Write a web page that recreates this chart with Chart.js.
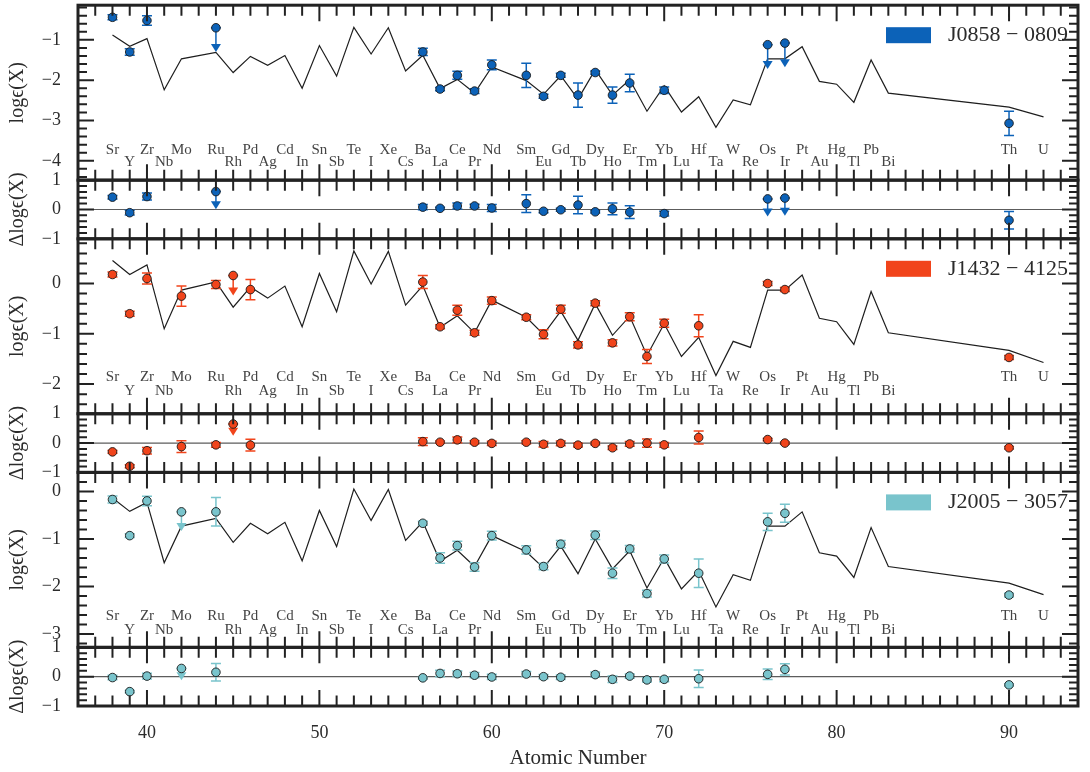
<!DOCTYPE html>
<html>
<head>
<meta charset="utf-8">
<script src="https://cdn.jsdelivr.net/npm/chart.js@4.4.1/dist/chart.umd.min.js"></script>
<style>
  html, body { margin: 0; padding: 0; background: #fff; }
  #wrap { width: 1090px; height: 772px; }
</style>
</head>
<body>
<div id="wrap"><canvas id="abund" width="1090" height="772"></canvas></div>
<script>
// Solar r-process pattern (scaled to J0858-0809; the other stars get a shift)
const solarZ = [38, 39, 40, 41, 42, 44, 45, 46, 47, 48, 49, 50, 51, 52, 53, 54, 55, 56, 57, 58, 59, 60,
                62, 63, 64, 65, 66, 67, 68, 69, 70, 71, 72, 73, 74, 75, 76, 77, 78, 79, 80, 81, 82, 83, 90, 92];
const solarSym = ['Sr', 'Y', 'Zr', 'Nb', 'Mo', 'Ru', 'Rh', 'Pd', 'Ag', 'Cd', 'In', 'Sn', 'Sb', 'Te', 'I', 'Xe',
                  'Cs', 'Ba', 'La', 'Ce', 'Pr', 'Nd', 'Sm', 'Eu', 'Gd', 'Tb', 'Dy', 'Ho', 'Er', 'Tm', 'Yb', 'Lu',
                  'Hf', 'Ta', 'W', 'Re', 'Os', 'Ir', 'Pt', 'Au', 'Hg', 'Tl', 'Pb', 'Bi', 'Th', 'U'];
const solarR = [-0.88, -1.16, -0.97, -2.24, -1.47, -1.31, -1.81, -1.41, -1.63, -1.39, -2.20, -1.14, -1.90, -0.69,
                -1.35, -0.70, -1.77, -1.38, -2.21, -1.98, -2.32, -1.67, -2.01, -2.35, -1.89, -2.47, -1.74, -2.37,
                -1.99, -2.77, -2.14, -2.79, -2.41, -3.17, -2.49, -2.61, -1.47, -1.47, -1.17, -2.03, -2.10, -2.55,
                -1.50, -2.32, -2.67, -2.91];

const starNames = ['J0858 \u2212 0809', 'J1432 \u2212 4125', 'J2005 \u2212 3057'];
const starColors = ['#0c62b8', '#f1441b', '#79c4cc'];
const solarShift = [0, 1.34, 0.74];

// J0858-0809
const z1 = [38, 39, 40, 44, 56, 57, 58, 59, 60, 62, 63, 64, 65, 66, 67, 68, 70, 76, 77, 90];
const eps1 = [-0.44, -1.30, -0.52, -0.70, -1.30, -2.22, -1.88, -2.27, -1.62, -1.88, -2.40, -1.88, -2.37, -1.81,
              -2.37, -2.07, -2.25, -1.12, -1.08, -3.07];
const err1 = [0.06, 0.08, 0.12, 0.60, 0.09, 0.04, 0.10, 0.06, 0.12, 0.30, 0.05, 0.05, 0.30, 0.04, 0.20, 0.22,
              0.08, 0.60, 0.60, 0.30];
const res1 = [0.42, -0.11, 0.44, 0.61, 0.08, 0.04, 0.12, 0.12, 0.05, 0.20, -0.06, -0.01, 0.15, -0.08, 0.02,
              -0.09, -0.14, 0.36, 0.39, -0.37];
const lim1 = [44, 76, 77];

// J1432-4125
const z2 = [38, 39, 40, 42, 44, 45, 46, 56, 57, 58, 59, 60, 62, 63, 64, 65, 66, 67, 68, 69, 70, 72, 76, 77, 90];
const eps2 = [0.18, -0.60, 0.10, -0.25, -0.02, 0.16, -0.12, 0.03, -0.86, -0.53, -0.98, -0.34, -0.67, -1.01,
              -0.51, -1.22, -0.39, -1.18, -0.66, -1.45, -0.79, -0.84, 0.00, -0.12, -1.47];
const err2 = [0.05, 0.05, 0.11, 0.20, 0.08, 0.40, 0.20, 0.13, 0.04, 0.10, 0.05, 0.07, 0.05, 0.09, 0.08, 0.06,
              0.05, 0.06, 0.08, 0.14, 0.08, 0.22, 0.04, 0.04, 0.04];
const res2 = [-0.30, -0.79, -0.26, -0.12, -0.06, 0.65, -0.07, 0.05, 0.03, 0.11, 0.03, -0.01, 0.03, -0.04,
              -0.01, -0.07, -0.01, -0.16, -0.03, 0.00, -0.06, 0.19, 0.12, 0.00, -0.16];
const lim2 = [45];

// J2005-3057
const z3 = [38, 39, 40, 42, 44, 56, 57, 58, 59, 60, 62, 63, 64, 66, 67, 68, 69, 70, 72, 76, 77, 90];
const eps3 = [-0.17, -0.93, -0.20, -0.43, -0.43, -0.67, -1.40, -1.14, -1.59, -0.93, -1.23, -1.58, -1.11,
              -0.92, -1.72, -1.21, -2.15, -1.42, -1.72, -0.64, -0.46, -2.18];
const err3 = [0.075, 0.04, 0.10, 0.40, 0.30, 0.04, 0.11, 0.09, 0.09, 0.09, 0.085, 0.07, 0.075, 0.09, 0.11,
              0.07, 0.07, 0.085, 0.30, 0.18, 0.19, 0.04];
const res3 = [-0.03, -0.51, 0.02, 0.28, 0.15, -0.04, 0.11, 0.10, 0.05, -0.01, 0.09, 0.00, -0.02, 0.07, -0.09,
              0.02, -0.11, -0.09, -0.07, 0.08, 0.25, -0.28];
const lim3 = [42];

const xTicks = [40, 50, 60, 70, 80, 90];
const mainTicks = [[-1, -2, -3, -4], [0, -1, -2], [0, -1, -2, -3]];
const resTicks = [1, 0, -1];

const serif = "'Liberation Serif', 'DejaVu Serif', serif";
const ink = '#2b2b2b';

// axis ranges and the two rows of element labels (in data units of each panel)
const panels = [
  { main: 'm1', res: 'r1', min: -4.48, max: -0.14, rows: [-3.73, -4.03] },
  { main: 'm2', res: 'r2', min: -2.59, max: 0.89, rows: [-1.87, -2.13] },
  { main: 'm3', res: 'r3', min: -3.28, max: 0.40, rows: [-2.63, -2.91] }
];
const stars = [
  { z: z1, eps: eps1, err: err1, res: res1, lim: lim1 },
  { z: z2, eps: eps2, err: err2, res: res2, lim: lim2 },
  { z: z3, eps: eps3, err: err3, res: res3, lim: lim3 }
];

function yAxis(min, max, ticks, title, weight, stackWeight) {
  return {
    type: 'linear', position: 'left', stack: 'panels', stackWeight: stackWeight, weight: weight,
    min: min, max: max,
    afterFit: s => { s.width = 78; s.paddingTop = 0; s.paddingBottom = 0; },
    afterBuildTicks: s => { s.ticks = ticks.map(v => ({ value: v })); },
    grid: { display: false, drawTicks: false },
    border: { display: false },
    ticks: {
      autoSkip: false, padding: 17, color: ink, font: { family: serif, size: 18 },
      callback: v => String(v).replace('-', '\u2212')
    },
    title: { display: true, text: title, color: ink, font: { family: serif, size: 20 }, padding: { top: 6, bottom: 0 } }
  };
}

const scales = {
  x: {
    type: 'linear', min: 36, max: 94, position: 'bottom',
    afterFit: s => { s.height = 66; s.paddingLeft = 0; s.paddingRight = 0; },
    afterBuildTicks: s => { s.ticks = xTicks.map(v => ({ value: v })); },
    grid: { display: false, drawTicks: false },
    border: { display: false },
    ticks: { autoSkip: false, maxRotation: 0, padding: 16, color: ink, font: { family: serif, size: 18 } },
    title: { display: true, text: 'Atomic Number', color: ink, font: { family: serif, size: 21 }, padding: { top: 0, bottom: 1 } }
  }
};
panels.forEach((p, k) => {
  scales[p.main] = yAxis(p.min, p.max, mainTicks[k], 'log\u03f5(X)', 6 - 2 * k, 176);
  scales[p.res] = yAxis(-1, 1, resTicks, '\u0394log\u03f5(X)', 5 - 2 * k, 59);
});

const datasets = [];
stars.forEach((s, k) => {
  const p = panels[k];
  datasets.push({
    label: starNames[k] + ' solar', yAxisID: p.main, order: 2, showLine: true,
    data: solarZ.map((z, i) => ({ x: z, y: solarR[i] + solarShift[k] })),
    borderColor: '#1e1e1e', borderWidth: 1.2, pointRadius: 0
  });
  const pointStyle = {
    order: 1, pointRadius: 4.3, pointBorderWidth: 0.9, pointBorderColor: '#1a1a1a',
    backgroundColor: starColors[k], errors: s.err, limits: s.lim
  };
  datasets.push(Object.assign({
    label: starNames[k], yAxisID: p.main,
    data: s.z.map((z, i) => ({ x: z, y: s.eps[i] }))
  }, pointStyle));
  datasets.push(Object.assign({
    label: starNames[k] + ' residual', yAxisID: p.res,
    data: s.z.map((z, i) => ({ x: z, y: s.res[i] }))
  }, pointStyle));
});

// error bars and upper-limit arrows, drawn just under each dataset's markers
const errorBars = {
  id: 'errorBars',
  beforeDatasetDraw(chart, args) {
    const ds = chart.data.datasets[args.index];
    if (!ds.errors) return;
    const ctx = chart.ctx;
    const ys = chart.scales[ds.yAxisID];
    const cap = 5;
    ctx.save();
    ctx.strokeStyle = ds.backgroundColor;
    ctx.fillStyle = ds.backgroundColor;
    ctx.lineWidth = 1.5;
    args.meta.data.forEach((pt, i) => {
      const d = ds.data[i];
      const e = ds.errors[i];
      const x = pt.x;
      if (ds.limits.includes(d.x)) {
        const tip = ys.getPixelForValue(d.y - e);
        ctx.beginPath();
        ctx.moveTo(x, pt.y); ctx.lineTo(x, tip - 6);
        ctx.moveTo(x - cap, pt.y); ctx.lineTo(x + cap, pt.y);
        ctx.stroke();
        ctx.beginPath();
        ctx.moveTo(x - 5, tip - 8); ctx.lineTo(x + 5, tip - 8); ctx.lineTo(x, tip);
        ctx.closePath();
        ctx.fill();
      } else {
        const hi = ys.getPixelForValue(d.y + e);
        const lo = ys.getPixelForValue(d.y - e);
        ctx.beginPath();
        ctx.moveTo(x, hi); ctx.lineTo(x, lo);
        ctx.moveTo(x - cap, hi); ctx.lineTo(x + cap, hi);
        ctx.moveTo(x - cap, lo); ctx.lineTo(x + cap, lo);
        ctx.stroke();
      }
    });
    ctx.restore();
  }
};

// frames, inward ticks, element labels, zero lines and the legends
const panelDecor = {
  id: 'panelDecor',
  beforeDatasetsDraw(chart) {
    const { ctx, chartArea } = chart;
    const xs = chart.scales.x;
    ctx.save();
    panels.forEach(p => {
      const rs = chart.scales[p.res];
      const y0 = rs.getPixelForValue(0);
      ctx.strokeStyle = '#5c5c5c';
      ctx.lineWidth = 1.2;
      ctx.beginPath();
      ctx.moveTo(chartArea.left, y0); ctx.lineTo(chartArea.right, y0);
      ctx.stroke();

      const ms = chart.scales[p.main];
      ctx.font = '15px ' + serif;
      ctx.fillStyle = '#444';
      ctx.textAlign = 'center';
      ctx.textBaseline = 'middle';
      solarZ.forEach((z, i) => {
        const row = z % 2 === 0 ? p.rows[0] : p.rows[1];
        ctx.fillText(solarSym[i], xs.getPixelForValue(z), ms.getPixelForValue(row));
      });
    });
    ctx.restore();
  },
  afterDraw(chart) {
    const { ctx, chartArea } = chart;
    const xs = chart.scales.x;
    const left = chartArea.left, right = chartArea.right;
    ctx.save();
    ctx.strokeStyle = '#222';
    const ids = [];
    panels.forEach(p => { ids.push(p.main, p.res); });
    ids.forEach(id => {
      const ys = chart.scales[id];
      const top = ys.top, bottom = ys.bottom;
      ctx.lineWidth = 2;
      ctx.beginPath();
      for (let z = Math.ceil(xs.min); z <= xs.max; z++) {
        if (z === xs.min || z === xs.max) continue;
        const px = xs.getPixelForValue(z);
        const len = z % 10 === 0 ? 16 : 10.5;
        ctx.moveTo(px, top); ctx.lineTo(px, top + len);
        ctx.moveTo(px, bottom); ctx.lineTo(px, bottom - len);
      }
      for (let k = Math.ceil(ys.min / 0.2 - 1e-6); k <= Math.floor(ys.max / 0.2 + 1e-6); k++) {
        const py = ys.getPixelForValue(k * 0.2);
        const len = k % 5 === 0 ? 16 : 9;
        ctx.moveTo(left, py); ctx.lineTo(left + len, py);
        ctx.moveTo(right, py); ctx.lineTo(right - len, py);
      }
      ctx.stroke();
      ctx.lineWidth = 3;
      ctx.strokeRect(left, top, right - left, bottom - top);
    });

    panels.forEach((p, k) => {
      const ms = chart.scales[p.main];
      const cy = ms.top + 30;
      ctx.fillStyle = starColors[k];
      ctx.fillRect(right - 192, cy - 8, 45, 16);
      ctx.fillStyle = ink;
      ctx.font = '22px ' + serif;
      ctx.textAlign = 'left';
      ctx.textBaseline = 'middle';
      ctx.fillText(starNames[k], right - 130, cy);
    });
    ctx.restore();
  }
};

new Chart(document.getElementById('abund'), {
  type: 'scatter',
  data: { datasets: datasets },
  options: {
    responsive: false,
    animation: false,
    events: [],
    layout: { padding: { top: 1, right: 12, left: 0, bottom: 0 } },
    plugins: { legend: { display: false }, tooltip: { enabled: false } },
    scales: scales
  },
  plugins: [errorBars, panelDecor]
});
</script>
</body>
</html>
